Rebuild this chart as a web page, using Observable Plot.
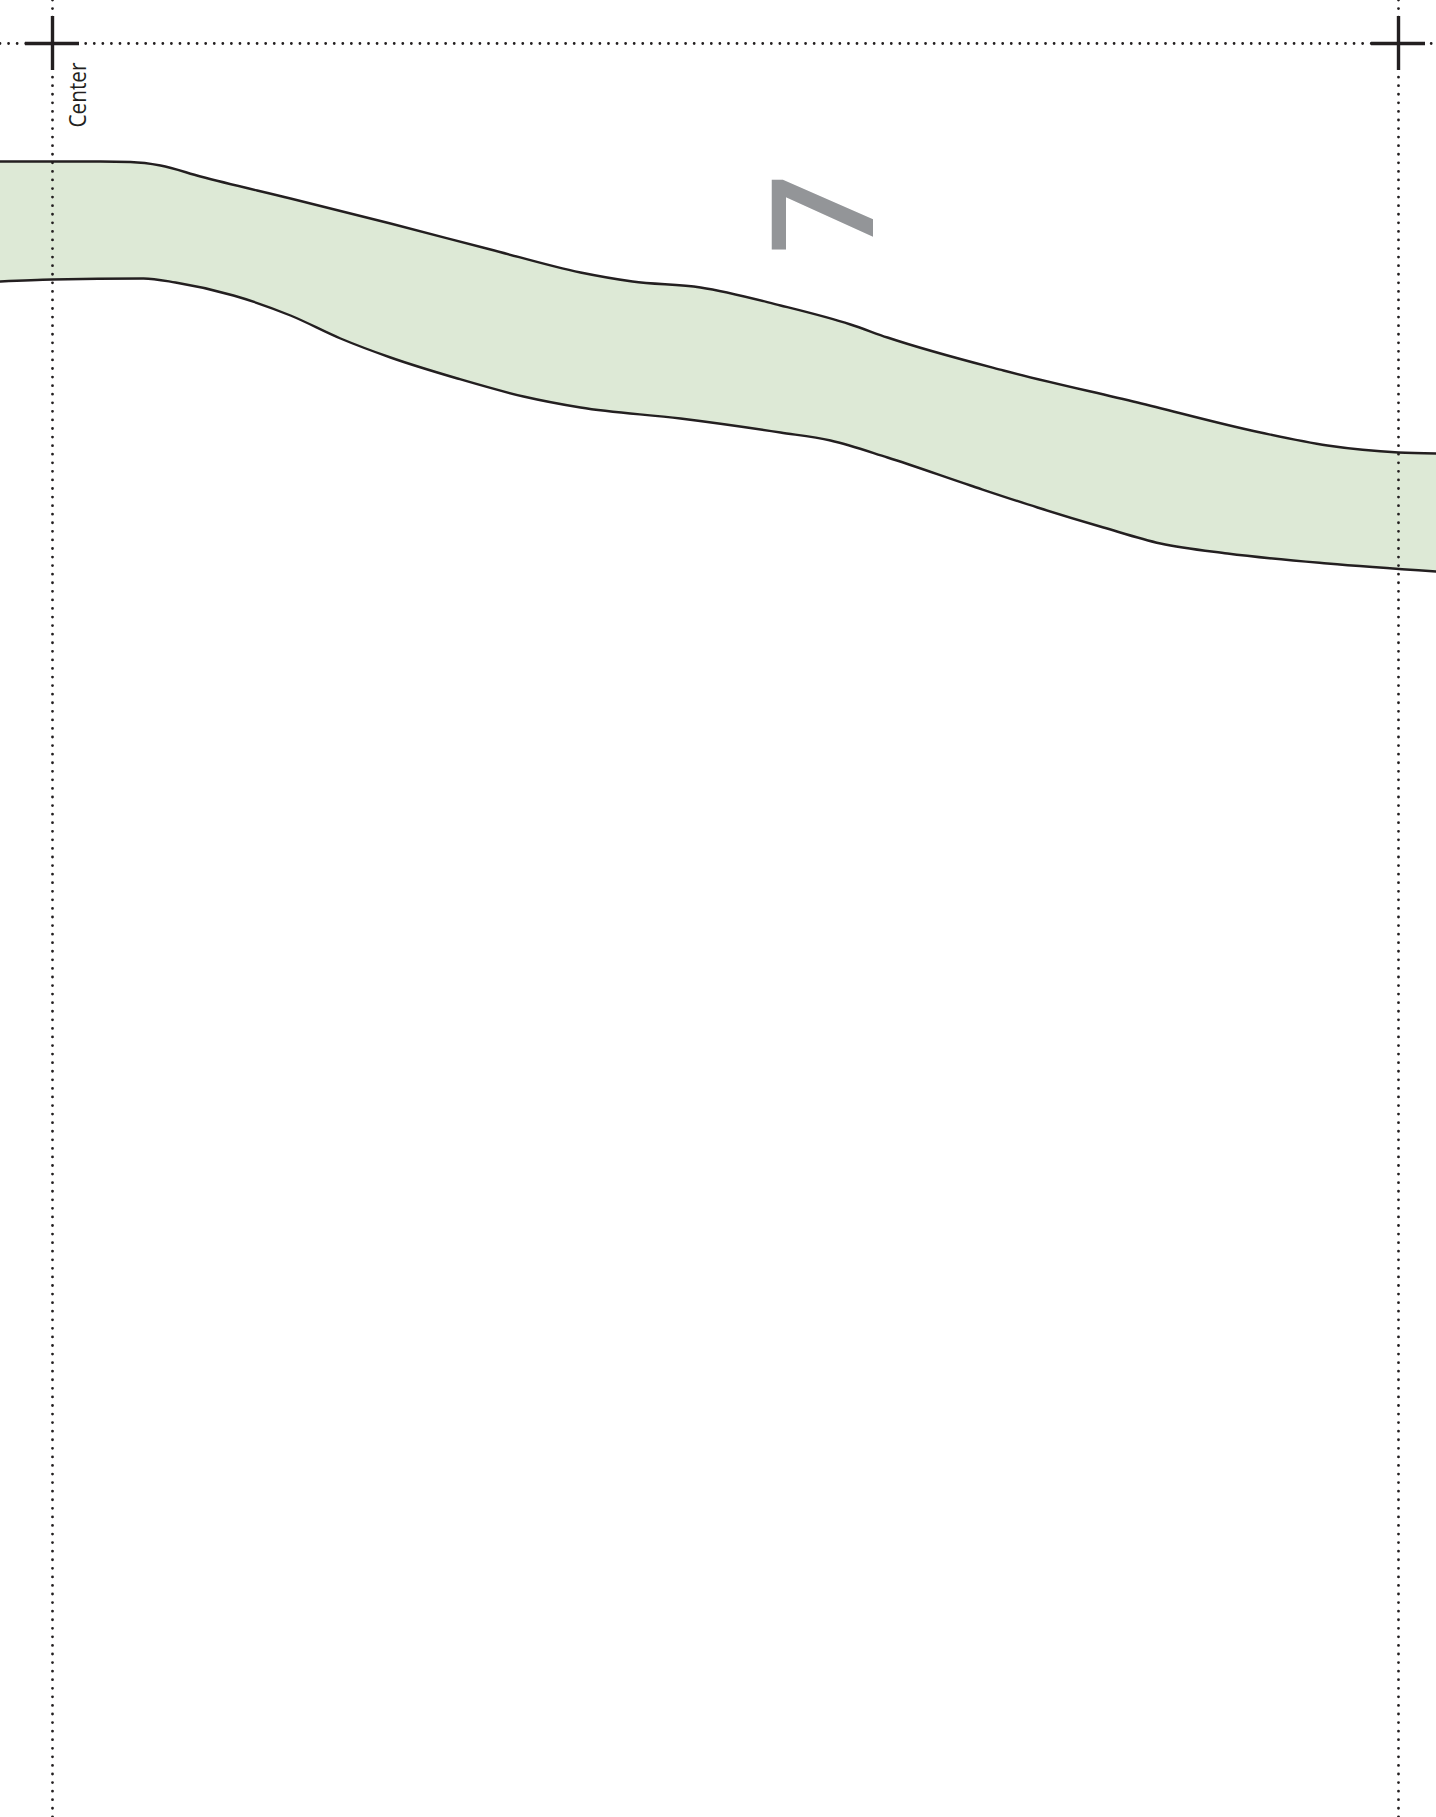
<!DOCTYPE html>
<html>
<head>
<meta charset="utf-8">
<script src="https://cdn.jsdelivr.net/npm/d3@7"></script>
<script src="https://cdn.jsdelivr.net/npm/@observablehq/plot@0.6"></script>
<style>
  html, body { margin: 0; padding: 0; background: #fff; overflow: hidden; }
  #chart svg { display: block; }
</style>
</head>
<body>
<div id="chart"></div>
<script>
// Pattern-sheet coordinates (sheet units, origin top-left)
const upperX = [0, 100, 130, 160, 200, 290, 390, 490, 580, 632, 700, 780, 850, 887, 1003, 1137, 1260, 1327, 1398, 1436];
const upperY = [161, 161, 161.5, 165, 176, 198, 223, 249, 272, 281, 287, 305, 324, 337, 370, 402, 432, 445, 452, 453];
const lowerX = [0, 52, 143, 175, 233, 290, 340, 390, 457, 523, 580, 680, 780, 830, 887, 970, 1037, 1103, 1160, 1227, 1327, 1436];
const lowerY = [281, 279, 278, 282, 295, 315, 338, 357, 378, 396, 407, 418, 432, 440, 457, 485, 507, 527, 543, 553, 563, 571];

const guideX = [52, 1398];      // vertical fold/guide lines
const guideY = [43];            // horizontal guide line
const crossX = [52, 1398];      // registration crosses
const crossY = [43, 43];

const labelText = ["Center", "7"];
const labelX = [78, 827];
const labelY = [127, 254];

const W = 1436, H = 1817;
const upper = upperX.map((x, i) => ({x, y: upperY[i]}));
const lower = lowerX.map((x, i) => ({x, y: lowerY[i]}));
const crosses = crossX.map((x, i) => ({x, y: crossY[i]}));
const labels = labelText.map((t, i) => ({t, x: labelX[i], y: labelY[i]}));
const ink = "#231f20";
const arm = 27;

const chart = Plot.plot({
  width: W,
  height: H,
  margin: 0,
  x: {domain: [0, W], range: [0, W], axis: null},
  y: {domain: [0, H], range: [0, H], axis: null},
  marks: [
    // band fill: green below the upper edge, then paper white below the lower edge
    Plot.areaY(upper, {x: "x", y1: "y", y2: H, fill: "#dde9d6", curve: "monotone-x"}),
    Plot.areaY(lower, {x: "x", y1: "y", y2: H, fill: "#ffffff", curve: "monotone-x"}),
    Plot.line(upper, {x: "x", y: "y", stroke: ink, strokeWidth: 2.4, curve: "monotone-x"}),
    Plot.line(lower, {x: "x", y: "y", stroke: ink, strokeWidth: 2.4, curve: "monotone-x"}),
    Plot.ruleX(guideX, {stroke: ink, strokeWidth: 2.8, strokeDasharray: "0 8.57", strokeLinecap: "round"}),
    Plot.ruleY(guideY, {stroke: ink, strokeWidth: 2.8, strokeDasharray: "0 8.57", strokeLinecap: "round"}),
    Plot.ruleX(crosses, {x: "x", y1: d => d.y - arm, y2: d => d.y + arm, stroke: ink, strokeWidth: 3.4}),
    Plot.ruleY(crosses, {y: "y", x1: d => d.x - arm, x2: d => d.x + arm, stroke: ink, strokeWidth: 3.4}),
    Plot.text(labels.slice(0, 1), {x: "x", y: "y", text: "t", rotate: -90, textAnchor: "start",
      fontSize: 24, fontFamily: "'Open Sans', sans-serif", fill: ink, className: "center-label"}),
    Plot.text(labels.slice(1), {x: "x", y: "y", text: "t", rotate: -90, textAnchor: "start",
      fontSize: 141, fontWeight: 600, fontFamily: "'Open Sans', sans-serif", fill: "#939598"})
  ]
});
// narrow the "Center" label to the reference's condensed width
d3.select(chart).selectAll(".center-label text")
  .attr("textLength", 65)
  .attr("lengthAdjust", "spacingAndGlyphs");
document.getElementById("chart").appendChild(chart);
</script>
</body>
</html>
